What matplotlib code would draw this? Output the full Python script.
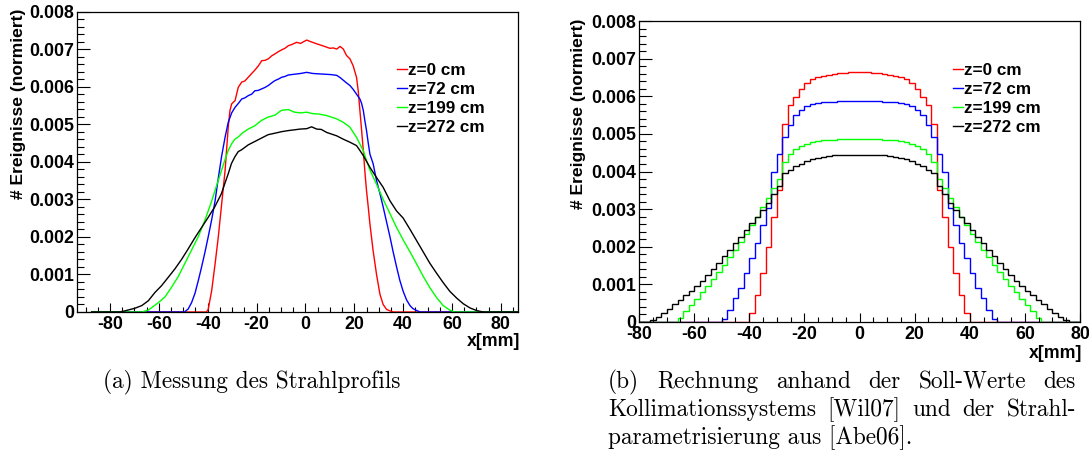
import matplotlib
matplotlib.use("Agg")
import matplotlib.pyplot as plt
from matplotlib.ticker import FixedLocator, MultipleLocator
import numpy as np

W, H = 1089, 458

# ---------------- data (values in units of 1e-3) ----------------
labels = ["z=0 cm", "z=72 cm", "z=199 cm", "z=272 cm"]
colors = ["#ff0000", "#0000ff", "#00ff00", "#000000"]

meas_red_x = [-87.5, -40.5, -39.8, -38.4, -37.0, -35.7, -34.3, -32.9, -31.6, -30.9, -30.2, -28.8, -27.5,
              -26.1, -24.8, -23.4, -22.0, -20.7, -19.3, -17.9, -16.5, -15.2, -13.8, -12.5, -11.1, -9.7,
              -8.4, -7.0, -5.6, -3.6, -2.0, 0.5, 2.0, 4.6, 6.5, 8.7, 10.0, 11.4, 12.8, 14.2, 15.5, 16.8,
              18.2, 19.5, 20.9, 21.6, 22.3, 23.0, 23.7, 24.3, 25.0, 25.7, 26.4, 27.7, 29.1, 30.5, 31.8,
              33.2, 34.6, 36.0, 87.5]
meas_red_y = [0, 0, 0.07, 0.56, 1.27, 1.98, 2.87, 3.76, 4.92, 5.36, 5.54, 5.63, 5.98,
              6.12, 6.15, 6.25, 6.35, 6.44, 6.55, 6.69, 6.70, 6.74, 6.82, 6.87, 6.93, 6.98,
              7.02, 7.09, 7.12, 7.18, 7.15, 7.24, 7.20, 7.14, 7.10, 7.05, 7.02, 7.03, 7.00, 7.07, 7.00, 6.83,
              6.74, 6.56, 6.25, 5.89, 5.36, 4.83, 4.29, 3.76, 3.23, 2.80, 2.34, 1.63, 1.00, 0.47, 0.20,
              0.07, 0.03, 0, 0]

meas_blue_x = [-87.5, -49.5, -48.0, -46.6, -45.2, -43.8, -42.5, -41.1, -39.8, -38.4, -37.0, -35.7, -34.3,
               -32.9, -31.6, -30.2, -28.8, -27.5, -26.1, -24.8, -23.4, -22.0, -20.7, -19.3, -17.9, -16.5,
               -15.2, -13.8, -12.5, -11.1, -9.7, -8.4, -7.0, -4.5, -2.0, 0.5, 3.0, 5.5, 8.0, 10.5, 12.8,
               14.2, 15.5, 16.8, 18.2, 19.5, 20.9, 22.3, 23.0, 23.7, 24.3, 25.0, 25.7, 26.4, 27.7, 29.1,
               30.5, 31.8, 33.2, 34.6, 35.9, 37.3, 38.6, 40.0, 41.4, 42.8, 44.0, 45.5, 47.0, 87.5]
meas_blue_y = [0, 0, 0.08, 0.25, 0.50, 0.85, 1.20, 1.60, 2.00, 2.45, 2.95, 3.55, 4.15,
               4.65, 5.05, 5.30, 5.45, 5.55, 5.67, 5.70, 5.76, 5.80, 5.89, 5.90, 5.94, 5.98,
               6.03, 6.10, 6.16, 6.20, 6.25, 6.27, 6.31, 6.33, 6.35, 6.38, 6.35, 6.34, 6.33, 6.32, 6.30,
               6.24, 6.17, 6.10, 6.03, 5.93, 5.80, 5.67, 5.55, 5.36, 5.10, 4.83, 4.50, 4.20, 3.95, 3.50,
               3.15, 2.80, 2.40, 2.00, 1.60, 1.20, 0.85, 0.55, 0.32, 0.17, 0.09, 0.04, 0, 0]

meas_green_x = [-87.5, -67.0, -64.3, -60.2, -57.5, -54.8, -52.0, -49.3, -46.6, -43.9, -41.1, -38.4, -35.7,
                -33.0, -31.6, -30.2, -28.9, -27.5, -25.5, -23.4, -20.7, -18.0, -15.3, -12.5, -9.8, -7.0,
                -4.5, -2.0, 0.5, 3.0, 5.5, 8.7, 12.8, 15.5, 18.2, 20.9, 22.3, 23.7, 25.0, 26.4, 29.1,
                31.8, 34.6, 37.3, 40.0, 42.8, 45.5, 48.2, 50.9, 53.7, 56.4, 59.1, 61.0, 87.5]
meas_green_y = [0, 0, 0.05, 0.25, 0.40, 0.66, 0.95, 1.30, 1.65, 2.00, 2.45, 2.95, 3.50,
                4.04, 4.30, 4.48, 4.60, 4.66, 4.78, 4.87, 4.96, 5.10, 5.19, 5.24, 5.37, 5.39,
                5.32, 5.30, 5.32, 5.28, 5.27, 5.23, 5.14, 5.05, 4.92, 4.65, 4.47, 4.29, 4.03, 3.78, 3.40,
                3.00, 2.62, 2.25, 1.92, 1.60, 1.28, 0.95, 0.65, 0.38, 0.17, 0.05, 0, 0]

meas_black_x = [-87.5, -76.0, -73.9, -69.8, -67.0, -64.3, -61.6, -58.9, -56.2, -53.4, -50.7, -48.0, -45.3,
                -42.5, -39.8, -37.1, -34.4, -33.0, -31.6, -30.3, -28.9, -27.5, -26.1, -23.4, -20.7, -18.0,
                -15.3, -12.5, -9.8, -7.0, -4.5, -2.2, 0.5, 2.5, 4.6, 6.5, 8.7, 12.8, 15.5, 18.2, 20.9,
                22.3, 23.7, 26.4, 29.1, 31.8, 34.6, 37.3, 40.0, 42.8, 45.5, 48.2, 50.9, 53.7, 56.4, 59.1,
                61.9, 64.6, 67.3, 70.0, 72.7, 87.5]
meas_black_y = [0, 0, 0.03, 0.10, 0.17, 0.30, 0.52, 0.70, 0.92, 1.15, 1.40, 1.68, 1.97,
                2.25, 2.52, 2.80, 3.15, 3.42, 3.68, 3.95, 4.13, 4.27, 4.32, 4.45, 4.54, 4.63,
                4.72, 4.76, 4.80, 4.83, 4.85, 4.87, 4.88, 4.93, 4.87, 4.86, 4.78, 4.69, 4.60, 4.52, 4.43,
                4.30, 4.16, 3.85, 3.58, 3.32, 2.96, 2.69, 2.50, 2.20, 1.90, 1.60, 1.30, 1.03, 0.78, 0.55,
                0.37, 0.22, 0.11, 0.04, 0, 0]

# (b) calculated profiles: 80 bins of 2 mm from -80 to 80
bin_edges = list(range(-80, 82, 2))
calc_red = [0]*20 + [0.25, 0.71, 1.31, 2.00, 2.80, 3.50, 5.27, 5.77, 5.97, 6.18, 6.36, 6.45, 6.50, 6.54,
                     6.57, 6.60, 6.62, 6.63, 6.64, 6.64,
                     6.64, 6.64, 6.63, 6.62, 6.60, 6.57, 6.54, 6.50, 6.45, 6.36, 6.18, 5.97, 5.77, 5.27,
                     3.50, 2.80, 2.00, 1.31, 0.71, 0.25] + [0]*20
calc_blue = [0]*15 + [0.09, 0.31, 0.64, 0.91, 1.30, 1.71, 2.10, 2.57, 3.04, 4.00, 4.46, 4.93, 5.24, 5.49,
                      5.64, 5.74, 5.79, 5.82, 5.84, 5.85, 5.86, 5.87, 5.87, 5.88, 5.88,
                      5.88, 5.88, 5.87, 5.87, 5.86, 5.85, 5.84, 5.82, 5.79, 5.74, 5.64, 5.49, 5.24, 4.93,
                      4.46, 4.00, 3.04, 2.57, 2.10, 1.71, 1.30, 0.91, 0.64, 0.31, 0.09] + [0]*15
calc_green = [0]*7 + [0.10, 0.28, 0.45, 0.62, 0.79, 0.96, 1.14, 1.33, 1.52, 1.72, 1.92, 2.13, 2.35, 2.57,
                      2.80, 3.05, 3.30, 3.55, 3.80, 4.26, 4.46, 4.60, 4.68, 4.74, 4.78, 4.81, 4.83, 4.84,
                      4.85, 4.86, 4.86, 4.86, 4.86,
                      4.86, 4.86, 4.86, 4.86, 4.85, 4.84, 4.83, 4.81, 4.78, 4.74, 4.68, 4.60, 4.46, 4.26,
                      3.80, 3.55, 3.30, 3.05, 2.80, 2.57, 2.35, 2.13, 1.92, 1.72, 1.52, 1.33, 1.14, 0.96,
                      0.79, 0.62, 0.45, 0.28, 0.10] + [0]*7
calc_black = [0]*2 + [0.05, 0.14, 0.24, 0.35, 0.47, 0.59, 0.71, 0.83, 0.96, 1.10, 1.25, 1.41, 1.58, 1.75,
                      1.92, 2.10, 2.27, 2.45, 2.62, 2.80, 2.98, 3.16, 3.40, 3.62, 3.95, 4.05, 4.14, 4.21,
                      4.27, 4.32, 4.36, 4.39, 4.41, 4.43, 4.44, 4.45, 4.45, 4.45,
                      4.45, 4.45, 4.45, 4.44, 4.43, 4.41, 4.39, 4.36, 4.32, 4.27, 4.21, 4.14, 4.05, 3.95,
                      3.62, 3.40, 3.16, 2.98, 2.80, 2.62, 2.45, 2.27, 2.10, 1.92, 1.75, 1.58, 1.41, 1.25,
                      1.10, 0.96, 0.83, 0.71, 0.59, 0.47, 0.35, 0.24, 0.14, 0.05] + [0]*2

xticks = [-80, -60, -40, -20, 0, 20, 40, 60, 80]
yticks = [0, 0.001, 0.002, 0.003, 0.004, 0.005, 0.006, 0.007, 0.008]
ytick_labels = ["0", "0.001", "0.002", "0.003", "0.004", "0.005", "0.006", "0.007", "0.008"]
ylabel = "# Ereignisse (normiert)"
xlabel = "x[mm]"
caption_a = "(a) Messung des Strahlprofils"
caption_b = ["(b) Rechnung anhand der Soll-Werte des",
             "Kollimationssystems [Wil07] und der Strahl-",
             "parametrisierung aus [Abe06]."]

# ---------------- figure ----------------
SANS = "Liberation Sans"
fig = plt.figure(figsize=(W / 100, H / 100), dpi=100)


def fx(px):
    return px / W


def fy(py):
    return 1 - py / H


def style_axes(ax, xlim):
    ax.set_xlim(*xlim)
    ax.set_ylim(0, 0.008)
    ax.xaxis.set_major_locator(FixedLocator(xticks))
    ax.xaxis.set_minor_locator(MultipleLocator(5))
    ax.yaxis.set_major_locator(FixedLocator(yticks))
    ax.yaxis.set_minor_locator(MultipleLocator(0.0002))
    ax.set_xticklabels([str(t) for t in xticks])
    ax.set_yticklabels(ytick_labels)
    ax.tick_params(axis="both", which="both", direction="in", top=False, right=False,
                   width=0.8, colors="black")
    ax.tick_params(axis="y", which="major", length=9.4, pad=2)
    ax.tick_params(axis="y", which="minor", length=5)
    ax.tick_params(axis="x", which="major", length=6.5, pad=3)
    ax.tick_params(axis="x", which="minor", length=3.6)
    for lab in ax.get_xticklabels() + ax.get_yticklabels():
        lab.set_fontfamily(SANS)
        lab.set_fontweight("bold")
        lab.set_fontsize(12.8)
    for sp in ax.spines.values():
        sp.set_linewidth(0.9)
        sp.set_color("black")


# left panel
ax1 = fig.add_axes([fx(77), fy(312), fx(518 - 77), (312 - 11.5) / H])
meas = [(meas_red_x, meas_red_y), (meas_blue_x, meas_blue_y),
        (meas_green_x, meas_green_y), (meas_black_x, meas_black_y)]
for (xs, ys), c in zip(meas, colors):
    ax1.plot(xs, np.array(ys) * 1e-3, color=c, lw=1.0)
style_axes(ax1, (-93.5, 87))

# right panel
ax2 = fig.add_axes([fx(639), fy(322), fx(1080 - 639), (322 - 21) / H])
for vals, c in zip([calc_red, calc_blue, calc_green, calc_black], colors):
    ax2.stairs(np.array(vals) * 1e-3, bin_edges, color=c, lw=1.0, baseline=0)
style_axes(ax2, (-80, 80))

# axis titles
fig.text(fx(19), fy(9), ylabel, rotation=90, ha="center", va="top",
         family=SANS, weight="bold", fontsize=12.6)
fig.text(fx(579), fy(19), ylabel, rotation=90, ha="center", va="top",
         family=SANS, weight="bold", fontsize=12.6)
fig.text(fx(520), fy(341), xlabel, ha="right", va="center", family=SANS, weight="bold", fontsize=12.8)
fig.text(fx(1082), fy(353), xlabel, ha="right", va="center", family=SANS, weight="bold", fontsize=12.8)

# legends
rows_y = [70.7, 89.0, 108.3, 127.5]
for x_line0, x_text in [(397, 408), (953, 964)]:
    for lab, c, y in zip(labels, colors, rows_y):
        fig.add_artist(plt.Line2D([fx(x_line0), fx(x_text - 1.5)], [fy(y - 1.5), fy(y - 1.5)],
                                  color=c, lw=1.0, transform=fig.transFigure))
        fig.text(fx(x_text), fy(y), lab, ha="left", va="center", family=SANS,
                 weight="bold", fontsize=12.3)

# captions (serif, justified lines for (b))
CAP = dict(family="cmr10", fontsize=16.8, va="center")
fig.text(fx(103), fy(382), caption_a, ha="left", **CAP)

renderer = fig.canvas.get_renderer()


def justified(line, x0, x1, y):
    words = line.split(" ")
    texts = [fig.text(0, 0, w, ha="left", **CAP) for w in words]
    widths = [t.get_window_extent(renderer).width for t in texts]
    gap = (x1 - x0 - sum(widths)) / (len(words) - 1)
    x = x0
    for t, wdt in zip(texts, widths):
        t.set_position((fx(x), fy(y)))
        x += wdt + gap


justified(caption_b[0], 608, 1076, 382)
justified(caption_b[1], 608, 1076, 410)
fig.text(fx(608), fy(438), caption_b[2], ha="left", **CAP)

fig.savefig("out.png", dpi=100)
